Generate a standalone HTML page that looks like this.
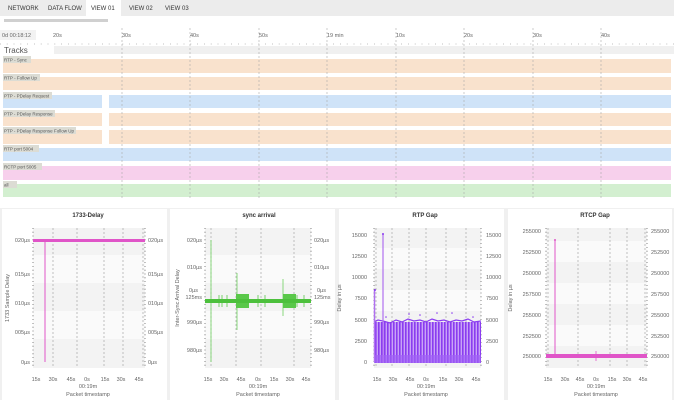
<!DOCTYPE html><html><head><meta charset="utf-8"><style>
body{margin:0;width:674px;height:400px;overflow:hidden;background:#f0f0f0;font-family:"Liberation Sans",sans-serif}
svg{display:block}
text{font-family:"Liberation Sans",sans-serif}
</style></head><body>
<svg width="674" height="400" viewBox="0 0 674 400" xmlns="http://www.w3.org/2000/svg">
<defs>
<pattern id="pp" width="3" height="10" patternUnits="userSpaceOnUse"><rect width="3" height="10" fill="#c9a3f7"/><rect width="1.6" height="10" fill="#8a3cf0"/></pattern>
</defs>
<!-- tabs -->
<rect x="0" y="0" width="674" height="16" fill="#ececec"/>
<rect x="86" y="0" width="35" height="16" fill="#fff"/>
<g font-size="6" fill="#333"><text x="8" y="10">NETWORK</text><text x="48" y="10">DATA FLOW</text><text x="91" y="10">VIEW 01</text><text x="129" y="10">VIEW 02</text><text x="165" y="10">VIEW 03</text></g>
<!-- timeline -->
<rect x="0" y="16" width="674" height="192" fill="#fff"/>
<rect x="4" y="19" width="104" height="3" fill="#d0d0d0"/>
<rect x="0" y="30" width="36" height="10" fill="#f2f2f2"/>
<rect x="54" y="46" width="620" height="8" fill="#f0f0f0"/>
<g font-size="5.5" fill="#666"><text x="2" y="37">0d 00:18:12</text><text x="53" y="37">20s</text><text x="122" y="37">30s</text><text x="190" y="37">40s</text><text x="259" y="37">50s</text><text x="327" y="37">19 min</text><text x="396" y="37">10s</text><text x="464" y="37">20s</text><text x="533" y="37">30s</text><text x="601" y="37">40s</text></g>
<line x1="0" y1="44" x2="674" y2="44" stroke="#666" stroke-width="0.6" stroke-dasharray="0.8 6"/>
<text x="4" y="53" font-size="8" fill="#555">Tracks</text>
<g>
<rect x="3" y="59" width="668" height="14" fill="#f9e2cd"/>
<rect x="3" y="77" width="668" height="13" fill="#f9e2cd"/>
<rect x="3" y="95" width="668" height="13" fill="#cfe3f8"/>
<rect x="3" y="113" width="668" height="13" fill="#f9e2cd"/>
<rect x="3" y="130" width="668" height="14" fill="#f9e2cd"/>
<rect x="102" y="95" width="7" height="49" fill="#fff"/>
<rect x="3" y="148" width="668" height="13" fill="#cfe3f8"/>
<rect x="3" y="166" width="668" height="14" fill="#f7d0ec"/>
<rect x="3" y="184" width="668" height="13" fill="#d3efd0"/>
</g>
<g fill="#dcdcd4"><rect x="3" y="56" width="28" height="7"/><rect x="3" y="74" width="37" height="7"/><rect x="3" y="92" width="49" height="7"/><rect x="3" y="110" width="52" height="7"/><rect x="3" y="127" width="73" height="7"/><rect x="3" y="145" width="36" height="7"/><rect x="3" y="163" width="39" height="7"/><rect x="3" y="181" width="14" height="7"/></g>
<g font-size="4.5" fill="#555"><text x="4" y="61.5">RTP - Sync</text><text x="4" y="79.5">RTP - Follow Up</text><text x="4" y="97.5">PTP - PDelay Request</text><text x="4" y="115.5">PTP - PDelay Response</text><text x="4" y="132.5">PTP - PDelay Response Follow Up</text><text x="4" y="150.5">RTP port 5004</text><text x="4" y="168.5">RCTP port 5005</text><text x="4" y="186.5">all</text></g>
<g stroke="#aaa" stroke-width="0.6" stroke-dasharray="2 2"><line x1="122" y1="28" x2="122" y2="200"/><line x1="190" y1="28" x2="190" y2="200"/><line x1="259" y1="28" x2="259" y2="200"/><line x1="327" y1="28" x2="327" y2="200"/><line x1="396" y1="28" x2="396" y2="200"/><line x1="464" y1="28" x2="464" y2="200"/><line x1="533" y1="28" x2="533" y2="200"/><line x1="601" y1="28" x2="601" y2="200"/></g>
<!-- panels -->
<g fill="#fff"><rect x="2" y="209" width="165" height="191"/><rect x="170" y="209" width="165" height="191"/><rect x="339" y="209" width="165" height="191"/><rect x="508" y="209" width="164" height="191"/></g>
<g font-size="6" fill="#333" text-anchor="middle" font-weight="bold"><text x="88" y="217">1733-Delay</text><text x="259" y="217">sync arrival</text><text x="425" y="217">RTP Gap</text><text x="595" y="217">RTCP Gap</text></g>
<!-- plot backgrounds -->
<g fill="#f3f3f3"><rect x="33" y="228" width="112" height="140"/><rect x="205" y="228" width="106" height="140"/><rect x="374" y="228" width="107" height="140"/><rect x="546" y="228" width="101" height="140"/></g>
<g fill="#fafafa"><rect x="33" y="255" width="112" height="28"/><rect x="33" y="311" width="112" height="28"/><rect x="205" y="255" width="106" height="28"/><rect x="205" y="311" width="106" height="28"/><rect x="374" y="248" width="107" height="21"/><rect x="374" y="290" width="107" height="21"/><rect x="374" y="332" width="107" height="21"/><rect x="546" y="241" width="101" height="21"/><rect x="546" y="283" width="101" height="21"/><rect x="546" y="325" width="101" height="21"/></g>
<g stroke="#999" stroke-width="0.6" stroke-dasharray="2 2">
<line x1="53" y1="228" x2="53" y2="368"/><line x1="77" y1="228" x2="77" y2="368"/><line x1="104" y1="228" x2="104" y2="368"/><line x1="123" y1="228" x2="123" y2="368"/><line x1="143" y1="228" x2="143" y2="368"/>
<line x1="211" y1="228" x2="211" y2="368"/><line x1="236" y1="228" x2="236" y2="368"/><line x1="261" y1="228" x2="261" y2="368"/><line x1="294" y1="228" x2="294" y2="368"/>
<line x1="376" y1="228" x2="376" y2="368"/><line x1="392" y1="228" x2="392" y2="368"/><line x1="409" y1="228" x2="409" y2="368"/><line x1="426" y1="228" x2="426" y2="368"/><line x1="446" y1="228" x2="446" y2="368"/><line x1="466" y1="228" x2="466" y2="368"/>
<line x1="548" y1="228" x2="548" y2="368"/><line x1="578" y1="228" x2="578" y2="368"/><line x1="610" y1="228" x2="610" y2="368"/><line x1="627" y1="228" x2="627" y2="368"/><line x1="645" y1="228" x2="645" y2="368"/>
</g>
<g stroke="#333" stroke-width="0.8" stroke-dasharray="0.8 3"><line x1="33" y1="228" x2="33" y2="368"/><line x1="145" y1="228" x2="145" y2="368"/><line x1="205" y1="228" x2="205" y2="368"/><line x1="311" y1="228" x2="311" y2="368"/><line x1="374" y1="228" x2="374" y2="368"/><line x1="481" y1="228" x2="481" y2="368"/><line x1="546" y1="228" x2="546" y2="368"/><line x1="647" y1="228" x2="647" y2="368"/></g>
<!-- chart1 -->
<rect x="33" y="239" width="112" height="3" fill="#e055c8"/>
<line x1="45" y1="240" x2="45" y2="362" stroke="#e055c8" stroke-width="1"/>
<g font-size="5.5" fill="#666"><text x="30" y="242" text-anchor="end">020µs</text><text x="30" y="276" text-anchor="end">015µs</text><text x="30" y="305" text-anchor="end">010µs</text><text x="30" y="334" text-anchor="end">005µs</text><text x="30" y="364" text-anchor="end">0µs</text>
<text x="148" y="242">020µs</text><text x="148" y="276">015µs</text><text x="148" y="305">010µs</text><text x="148" y="334">005µs</text><text x="148" y="364">0µs</text></g>
<text transform="translate(9,298) rotate(-90)" font-size="5.5" fill="#666" text-anchor="middle">1733 Sample Delay</text>
<!-- chart2 -->
<line x1="211" y1="240" x2="211" y2="362" stroke="#6fd060" stroke-width="0.8"/>
<line x1="237" y1="273" x2="237" y2="330" stroke="#6fd060" stroke-width="0.8"/>
<line x1="283" y1="279" x2="283" y2="316" stroke="#6fd060" stroke-width="0.8"/>
<rect x="236" y="294" width="13" height="14" fill="#5ac84a"/>
<rect x="283" y="294" width="13" height="14" fill="#5ac84a"/>
<g stroke="#5ac84a" stroke-width="0.8"><line x1="219" y1="295" x2="219" y2="307"/><line x1="222" y1="295" x2="222" y2="307"/><line x1="227" y1="295" x2="227" y2="307"/><line x1="258" y1="295" x2="258" y2="307"/><line x1="265" y1="295" x2="265" y2="307"/><line x1="297" y1="295" x2="297" y2="307"/><line x1="304" y1="295" x2="304" y2="307"/></g>
<rect x="205" y="299" width="106" height="4" fill="#4cc03c"/>
<g font-size="5.5" fill="#666"><text x="202" y="242" text-anchor="end">020µs</text><text x="202" y="269" text-anchor="end">010µs</text><text x="198" y="292" text-anchor="end">0µs</text><text x="202" y="299" text-anchor="end">125ms</text><text x="202" y="324" text-anchor="end">990µs</text><text x="202" y="352" text-anchor="end">980µs</text>
<text x="314" y="242">020µs</text><text x="314" y="269">010µs</text><text x="317" y="292">0µs</text><text x="314" y="299">125ms</text><text x="314" y="324">990µs</text><text x="314" y="352">980µs</text></g>
<text transform="translate(179,298) rotate(-90)" font-size="5.5" fill="#666" text-anchor="middle">Inter-Sync Arrival Delay</text>
<!-- chart3 -->
<rect x="374" y="322" width="107" height="41" fill="url(#pp)"/>
<polyline points="374,322 378,320 383,321 390,323 396,320 402,322 408,319 414,321 420,320 426,322 432,319 438,321 444,320 450,322 456,320 462,321 468,319 474,322 481,321" fill="none" stroke="#8a3cf0" stroke-width="1.2"/>
<rect x="374" y="355" width="107" height="8" fill="#a060f5" opacity="0.7"/>
<line x1="374.5" y1="290" x2="374.5" y2="362" stroke="#b070f0" stroke-width="1.5"/>
<line x1="383" y1="234" x2="383" y2="362" stroke="#b070f0" stroke-width="1.2"/>
<g fill="#8a3cf0"><circle cx="383" cy="234" r="1"/><circle cx="375" cy="290" r="1"/><circle cx="386" cy="317" r="0.8"/><circle cx="409" cy="314" r="0.8"/><circle cx="420" cy="315" r="0.8"/><circle cx="437" cy="313" r="0.8"/><circle cx="452" cy="313" r="0.8"/><circle cx="473" cy="317" r="0.8"/></g>
<g font-size="5.5" fill="#666"><text x="367" y="237" text-anchor="end">15000</text><text x="367" y="258" text-anchor="end">12500</text><text x="367" y="279" text-anchor="end">10000</text><text x="367" y="300" text-anchor="end">7500</text><text x="367" y="322" text-anchor="end">5000</text><text x="367" y="343" text-anchor="end">2500</text><text x="367" y="364" text-anchor="end">0</text>
<text x="486" y="237">15000</text><text x="486" y="258">12500</text><text x="486" y="279">10000</text><text x="486" y="300">7500</text><text x="486" y="322">5000</text><text x="486" y="343">2500</text><text x="486" y="364">0</text></g>
<text transform="translate(341,298) rotate(-90)" font-size="5.5" fill="#666" text-anchor="middle">Delay in µs</text>
<!-- chart4 -->
<line x1="555" y1="240" x2="555" y2="356" stroke="#e055c8" stroke-width="1"/>
<circle cx="555" cy="240" r="1" fill="#e055c8"/>
<rect x="546" y="354" width="101" height="4" fill="#e055c8"/>
<line x1="596" y1="351" x2="596" y2="361" stroke="#e055c8" stroke-width="0.8"/>
<g font-size="5.5" fill="#666"><text x="541" y="233" text-anchor="end">255000</text><text x="541" y="254" text-anchor="end">252500</text><text x="541" y="275" text-anchor="end">250000</text><text x="541" y="296" text-anchor="end">257500</text><text x="541" y="317" text-anchor="end">255000</text><text x="541" y="338" text-anchor="end">252500</text><text x="541" y="358" text-anchor="end">250000</text>
<text x="651" y="233">255000</text><text x="651" y="254">252500</text><text x="651" y="275">250000</text><text x="651" y="296">257500</text><text x="651" y="317">255000</text><text x="651" y="338">252500</text><text x="651" y="358">250000</text></g>
<text transform="translate(512,298) rotate(-90)" font-size="5.5" fill="#666" text-anchor="middle">Delay in µs</text>
<!-- x axes -->
<g font-size="5.5" fill="#666" text-anchor="middle">
<g transform="translate(0,0)"><text x="36" y="381">15s</text><text x="53" y="381">30s</text><text x="71" y="381">45s</text><text x="87" y="381">0s</text><text x="105" y="381">15s</text><text x="121" y="381">30s</text><text x="139" y="381">45s</text><text x="88" y="388">00:19m</text><text x="88" y="396">Packet timestamp</text></g>
<text x="208" y="381">15s</text><text x="224" y="381">30s</text><text x="241" y="381">45s</text><text x="258" y="381">0s</text><text x="274" y="381">15s</text><text x="290" y="381">30s</text><text x="306" y="381">45s</text><text x="258" y="388">00:19m</text><text x="258" y="396">Packet timestamp</text>
<text x="377" y="381">15s</text><text x="393" y="381">30s</text><text x="410" y="381">45s</text><text x="426" y="381">0s</text><text x="443" y="381">15s</text><text x="459" y="381">30s</text><text x="476" y="381">45s</text><text x="426" y="388">00:19m</text><text x="426" y="396">Packet timestamp</text>
<text x="548" y="381">15s</text><text x="565" y="381">30s</text><text x="580" y="381">45s</text><text x="596" y="381">0s</text><text x="612" y="381">15s</text><text x="627" y="381">30s</text><text x="643" y="381">45s</text><text x="596" y="388">00:19m</text><text x="596" y="396">Packet timestamp</text>
</g>
</svg>
</body></html>
